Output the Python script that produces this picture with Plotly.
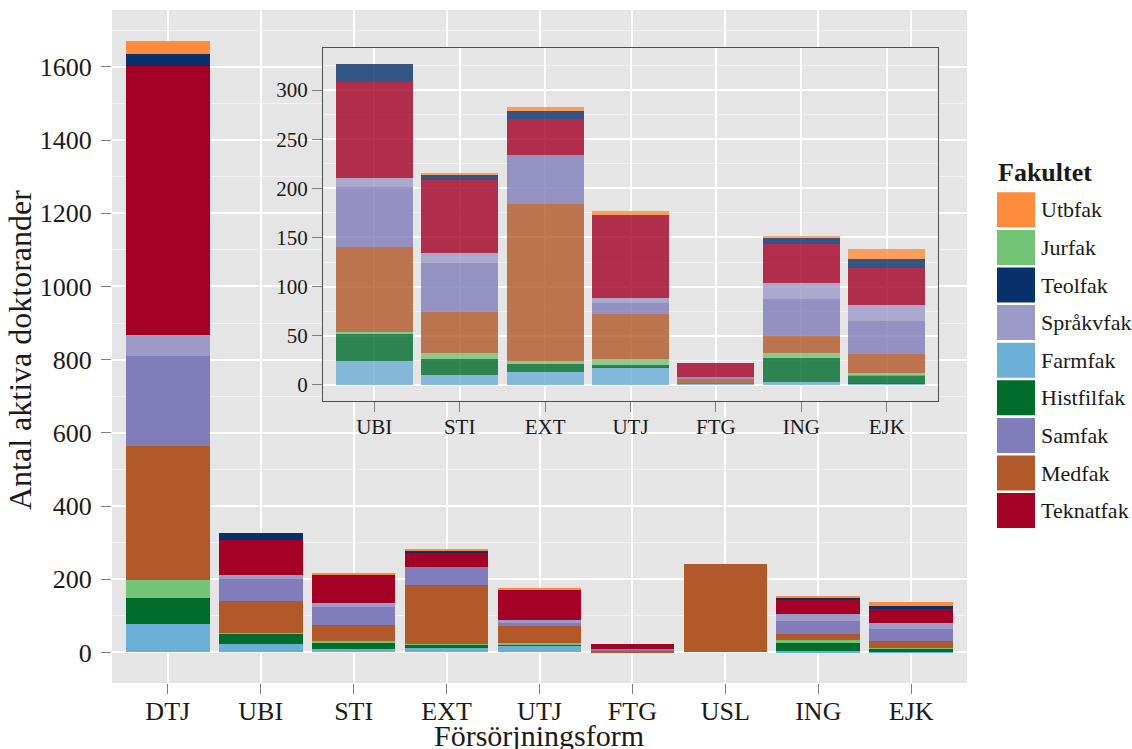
import plotly.graph_objects as go

# ---- data ----
categories = ["DTJ", "UBI", "STI", "EXT", "UTJ", "FTG", "USL", "ING", "EJK"]
inset_categories = ["UBI", "STI", "EXT", "UTJ", "FTG", "ING", "EJK"]

# stacking order (bottom -> top)
faculties = ["Farmfak", "Histfilfak", "Jurfak", "Medfak", "Samfak",
             "Språkvfak", "Teknatfak", "Teolfak", "Utbfak"]

farmfak    = [77, 24, 10, 13, 18, 1, 0, 3, 1]
histfilfak = [71, 28, 16, 8, 2, 0, 0, 24, 9]
jurfak     = [49, 2, 6, 3, 6, 0, 0, 6, 2]
medfak     = [367, 86, 42, 160, 46, 5, 241, 17, 19]
samfak     = [246, 61, 50, 50, 11, 2, 0, 37, 34]
sprakvfak  = [57, 10, 10, 0, 5, 0, 0, 17, 16]
teknatfak  = [736, 97, 74, 37, 85, 14, 0, 39, 38]
teolfak    = [32, 18, 6, 8, 0, 0, 0, 6, 9]
utbfak     = [37, 0, 1, 4, 4, 0, 0, 3, 10]

values = [farmfak, histfilfak, jurfak, medfak, samfak,
          sprakvfak, teknatfak, teolfak, utbfak]

colors = {
    "Utbfak": "#FD8D3C",
    "Jurfak": "#74C476",
    "Teolfak": "#08306B",
    "Språkvfak": "#9E9AC8",
    "Farmfak": "#6BAED6",
    "Histfilfak": "#006D2C",
    "Samfak": "#807DBA",
    "Medfak": "#B15928",
    "Teknatfak": "#A50026",
}
legend_order = ["Utbfak", "Jurfak", "Teolfak", "Språkvfak", "Farmfak",
                "Histfilfak", "Samfak", "Medfak", "Teknatfak"]

main_ymax = 1672
inset_ymax = 326.4

# ---- layout geometry (pixels) ----
W, H = 1132, 749
L, R, T, B = 112, 165, 10, 66
PW, PH = W - L - R, H - T - B

def px(x):
    return (x - L) / PW

def py(y):
    return (H - B - y) / PH

FONT = "Liberation Serif"
TXT = "#1a1a1a"

fig = go.Figure()

inset_idx = [categories.index(c) for c in inset_categories]
for name, vals in zip(faculties, values):
    fig.add_trace(go.Bar(
        x=categories, y=vals, name=name, marker_color=colors[name],
        marker_line_width=0, width=0.9, xaxis="x", yaxis="y",
        showlegend=False))
for name, vals in zip(faculties, values):
    fig.add_trace(go.Bar(
        x=inset_categories, y=[vals[i] for i in inset_idx], name=name,
        marker_color=colors[name], marker_line_width=0, opacity=0.8,
        width=0.9, xaxis="x2", yaxis="y2", showlegend=False))

grid_major = "#FFFFFF"
grid_minor = "#F2F2F2"

fig.update_layout(
    width=W, height=H, barmode="stack", bargap=0,
    margin=dict(l=L, r=R, t=T, b=B, pad=0),
    paper_bgcolor="white", plot_bgcolor="#E5E5E5",
    font=dict(family=FONT, color=TXT),
    xaxis=dict(
        domain=[0, 1], anchor="y", type="category",
        categoryorder="array", categoryarray=categories,
        range=[-0.6, len(categories) - 0.4],
        showgrid=True, gridcolor=grid_major, gridwidth=1.8,
        ticks="outside", ticklen=10, tickcolor="#7f7f7f", tickwidth=1,
        ticklabelstandoff=-5,
        tickfont=dict(size=26, family=FONT, color=TXT),
        showline=False, zeroline=False,
    ),
    yaxis=dict(
        domain=[0, 1], anchor="x",
        range=[-0.05 * main_ymax, 1.05 * main_ymax],
        tickvals=[0, 200, 400, 600, 800, 1000, 1200, 1400, 1600],
        showgrid=True, gridcolor=grid_major, gridwidth=1.8,
        minor=dict(tick0=100, dtick=200, showgrid=True,
                   gridcolor=grid_minor, gridwidth=1),
        ticks="outside", ticklen=10, tickcolor="#7f7f7f", tickwidth=1,
        ticklabelstandoff=4,
        tickfont=dict(size=26, family=FONT, color=TXT),
        showline=False, zeroline=False,
    ),
    xaxis2=dict(
        domain=[px(323), px(938)], anchor="y2", type="category",
        categoryorder="array", categoryarray=inset_categories,
        range=[-0.6, len(inset_categories) - 0.4],
        showgrid=True, gridcolor=grid_major, gridwidth=1.8,
        ticks="outside", ticklen=10, tickcolor="#7f7f7f", tickwidth=1,
        ticklabelstandoff=-3,
        tickfont=dict(size=21, family=FONT, color=TXT),
        showline=True, mirror=True, linecolor="#4d4d4d", linewidth=1.3,
        zeroline=False,
    ),
    yaxis2=dict(
        domain=[py(401), py(48)], anchor="x2",
        range=[-0.05 * inset_ymax, 1.05 * inset_ymax],
        tickvals=[0, 50, 100, 150, 200, 250, 300],
        showgrid=True, gridcolor=grid_major, gridwidth=1.8,
        minor=dict(tick0=25, dtick=50, showgrid=True,
                   gridcolor=grid_minor, gridwidth=1),
        ticks="outside", ticklen=10, tickcolor="#7f7f7f", tickwidth=1,
        tickfont=dict(size=21, family=FONT, color=TXT),
        showline=True, mirror=True, linecolor="#4d4d4d", linewidth=1.3,
        zeroline=False,
    ),
)

annotations = [
    dict(text="Antal aktiva doktorander", x=px(20), y=py(350), xref="paper",
         yref="paper", textangle=-90, showarrow=False,
         font=dict(size=32, family=FONT, color=TXT),
         xanchor="center", yanchor="middle"),
    dict(text="Försörjningsform", x=px(539), y=py(735), xref="paper",
         yref="paper", showarrow=False,
         font=dict(size=30, family=FONT, color=TXT),
         xanchor="center", yanchor="middle"),
    dict(text="<b>Fakultet</b>", x=px(996), y=py(172), xref="paper",
         yref="paper", showarrow=False, xanchor="left", yanchor="middle",
         font=dict(size=26, family=FONT, color=TXT)),
]
shapes = []
key_top0, pitch, key_h = 192.3, 37.6, 35.0
for i, name in enumerate(legend_order):
    top = key_top0 + i * pitch
    shapes.append(dict(type="rect", xref="paper", yref="paper",
                       x0=px(997), x1=px(1035), y0=py(top + key_h), y1=py(top),
                       fillcolor=colors[name], line=dict(width=0)))
    annotations.append(dict(text=name, x=px(1039), y=py(top + key_h / 2),
                            xref="paper", yref="paper", showarrow=False,
                            xanchor="left", yanchor="middle",
                            font=dict(size=22, family=FONT, color=TXT)))

fig.update_layout(annotations=annotations, shapes=shapes)
fig.write_html(
    "out.html",
    config={"displayModeBar": False},
    post_script="document.body.style.margin='0';document.body.style.overflow='hidden';",
)
